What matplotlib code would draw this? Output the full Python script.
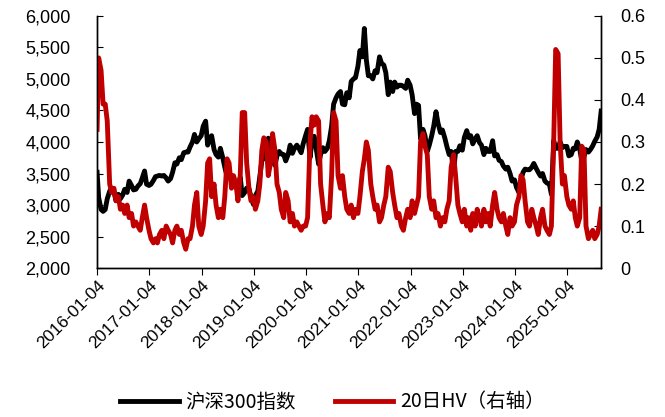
import numpy as np
import pandas as pd
import matplotlib
matplotlib.use('Agg')
import matplotlib.pyplot as plt
import matplotlib.dates as mdates
from matplotlib.ticker import FuncFormatter

plt.rcParams['font.family'] = ['Liberation Sans', 'Noto Sans CJK SC', 'DejaVu Sans']

# semi-monthly readings (1st / 15th of each month)
csi_2016 = [3520, 3120, 2930, 2900, 2930, 3100, 3220, 3270, 3210, 3070, 3170, 3100, 3160, 3250, 3200, 3380, 3310, 3240, 3250, 3300, 3340, 3430, 3540, 3330]
csi_2017 = [3310, 3330, 3390, 3450, 3460, 3470, 3460, 3470, 3430, 3380, 3420, 3520, 3670, 3650, 3750, 3720, 3830, 3840, 3840, 3920, 4000, 4120, 4000, 4050]
csi_2018 = [4100, 4250, 4330, 3950, 4050, 4100, 3880, 3800, 3760, 3900, 3750, 3600, 3450, 3500, 3450, 3300, 3330, 3250, 3440, 3150, 3200, 3270, 3260, 3130]
csi_2019 = [3010, 3150, 3220, 3450, 3700, 3750, 3960, 4060, 3900, 3700, 3630, 3780, 3850, 3810, 3800, 3700, 3800, 3950, 3820, 3900, 3950, 3900, 3830, 3970]
csi_2020 = [4100, 4200, 3750, 4020, 4090, 3900, 3650, 3800, 3910, 3850, 3900, 4020, 4250, 4600, 4700, 4760, 4800, 4600, 4590, 4780, 4700, 4960, 5000, 5020]
csi_2021 = [5200, 5450, 5350, 5800, 5300, 5050, 5050, 5000, 5130, 5100, 5350, 5250, 5220, 5100, 4750, 4950, 4800, 4950, 4870, 4900, 4900, 4880, 4850, 4980]
csi_2022 = [4900, 4750, 4450, 4600, 4580, 4050, 4200, 4100, 3850, 3950, 4100, 4250, 4480, 4300, 4150, 4190, 4060, 3930, 3800, 3850, 3530, 3850, 3850, 3940]
csi_2023 = [3870, 4070, 4180, 4070, 4100, 3970, 4050, 4100, 3990, 3950, 3800, 3900, 3850, 3850, 4020, 3780, 3800, 3710, 3690, 3620, 3570, 3600, 3500, 3380]
csi_2024 = [3400, 3280, 3200, 3400, 3520, 3570, 3560, 3560, 3600, 3660, 3580, 3520, 3460, 3500, 3380, 3350, 3330, 3170, 4020, 3900, 3900, 4000, 3910, 3930]
csi_2025 = [3930, 3780, 3800, 3900, 3890, 4000, 3890, 3700, 3770, 3880, 3840, 3880, 3940, 4010, 4080, 4200, 4490]

hv_2016 = [0.33, 0.50, 0.47, 0.39, 0.39, 0.35, 0.20, 0.18, 0.19, 0.16, 0.17, 0.14, 0.15, 0.13, 0.15, 0.12, 0.13, 0.10, 0.11, 0.10, 0.09, 0.12, 0.15, 0.12]
hv_2017 = [0.09, 0.07, 0.06, 0.07, 0.06, 0.08, 0.09, 0.07, 0.10, 0.09, 0.08, 0.06, 0.09, 0.10, 0.08, 0.09, 0.06, 0.045, 0.07, 0.07, 0.10, 0.15, 0.18, 0.10]
hv_2018 = [0.08, 0.10, 0.16, 0.25, 0.26, 0.17, 0.20, 0.15, 0.12, 0.14, 0.12, 0.17, 0.26, 0.25, 0.19, 0.22, 0.20, 0.16, 0.22, 0.37, 0.37, 0.25, 0.19, 0.16]
hv_2019 = [0.17, 0.14, 0.16, 0.20, 0.28, 0.31, 0.30, 0.22, 0.25, 0.32, 0.28, 0.20, 0.18, 0.14, 0.12, 0.18, 0.16, 0.11, 0.13, 0.10, 0.11, 0.10, 0.09, 0.10]
hv_2020 = [0.10, 0.12, 0.30, 0.36, 0.34, 0.36, 0.35, 0.20, 0.15, 0.11, 0.13, 0.12, 0.22, 0.37, 0.35, 0.22, 0.19, 0.22, 0.17, 0.14, 0.13, 0.15, 0.12, 0.14]
hv_2021 = [0.13, 0.17, 0.23, 0.26, 0.30, 0.28, 0.20, 0.17, 0.14, 0.15, 0.11, 0.12, 0.15, 0.17, 0.24, 0.23, 0.18, 0.15, 0.12, 0.13, 0.10, 0.09, 0.12, 0.14]
hv_2022 = [0.12, 0.16, 0.13, 0.15, 0.17, 0.30, 0.32, 0.29, 0.27, 0.17, 0.14, 0.16, 0.12, 0.13, 0.10, 0.12, 0.11, 0.14, 0.16, 0.24, 0.27, 0.22, 0.15, 0.13]
hv_2023 = [0.11, 0.14, 0.10, 0.12, 0.09, 0.13, 0.10, 0.14, 0.12, 0.10, 0.14, 0.11, 0.13, 0.10, 0.15, 0.18, 0.14, 0.12, 0.11, 0.13, 0.10, 0.08, 0.12, 0.10]
hv_2024 = [0.11, 0.15, 0.17, 0.22, 0.21, 0.16, 0.11, 0.10, 0.14, 0.12, 0.10, 0.08, 0.12, 0.14, 0.10, 0.09, 0.08, 0.10, 0.30, 0.52, 0.51, 0.30, 0.20, 0.22]
hv_2025 = [0.17, 0.15, 0.14, 0.16, 0.12, 0.10, 0.12, 0.29, 0.28, 0.10, 0.07, 0.08, 0.09, 0.07, 0.08, 0.10, 0.14]

csi = np.array(csi_2016 + csi_2017 + csi_2018 + csi_2019 + csi_2020 +
               csi_2021 + csi_2022 + csi_2023 + csi_2024 + csi_2025)
hv = np.array(hv_2016 + hv_2017 + hv_2018 + hv_2019 + hv_2020 +
              hv_2021 + hv_2022 + hv_2023 + hv_2024 + hv_2025)

dates = list(pd.date_range('2016-01-01', '2025-08-15', freq='SMS'))
dates[0] = pd.Timestamp('2016-01-04')
dates.append(pd.Timestamp('2025-08-29'))
dates = pd.DatetimeIndex(dates)

tick_dates = pd.to_datetime(['%d-01-04' % y for y in range(2016, 2026)])

fig = plt.figure(figsize=(6.65, 4.17), dpi=100)
ax1 = fig.add_axes([0.146, 0.357, 0.758, 0.605])
ax2 = ax1.twinx()

l1, = ax1.plot(dates, csi, color='black', lw=3.5, solid_joinstyle='round', label='沪深300指数')
l2, = ax2.plot(dates, hv, color='#C00000', lw=3.5, solid_joinstyle='round', label='20日HV（右轴）')

ax1.set_ylim(2000, 6000)
ax1.set_yticks(np.arange(2000, 6001, 500))
ax1.yaxis.set_major_formatter(FuncFormatter(lambda v, p: '{:,.0f}'.format(v)))
ax2.set_ylim(0, 0.6)
ax2.set_yticks(np.arange(0, 0.61, 0.1))
ax2.yaxis.set_major_formatter(FuncFormatter(lambda v, p: '0' if v == 0 else '%.1f' % v))

ax1.set_xlim(pd.Timestamp('2016-01-04'), pd.Timestamp('2025-08-29'))
ax1.set_xticks(tick_dates)
ax1.xaxis.set_major_formatter(mdates.DateFormatter('%Y-%m-%d'))
for lab in ax1.get_xticklabels():
    lab.set_rotation(45)
    lab.set_ha('right')
    lab.set_rotation_mode('anchor')

for ax in (ax1, ax2):
    ax.spines['top'].set_visible(False)
    for s in ('left', 'right', 'bottom'):
        ax.spines[s].set_color('black')
        ax.spines[s].set_linewidth(1.0)
ax1.tick_params(axis='y', direction='in', length=4, labelsize=13, pad=19)
ax2.tick_params(axis='y', direction='in', length=5, labelsize=13, pad=14)
ax1.tick_params(axis='x', direction='out', length=5, labelsize=12.5, pad=2)

fig.legend(handles=[l1, l2], loc='center', bbox_to_anchor=(0.5, 0.036), ncol=2,
           frameon=False, prop={'family': ['Noto Sans CJK SC'], 'size': 14},
           handlelength=3.0, handletextpad=0.35, columnspacing=2.0)

fig.savefig('out.png', dpi=100)
